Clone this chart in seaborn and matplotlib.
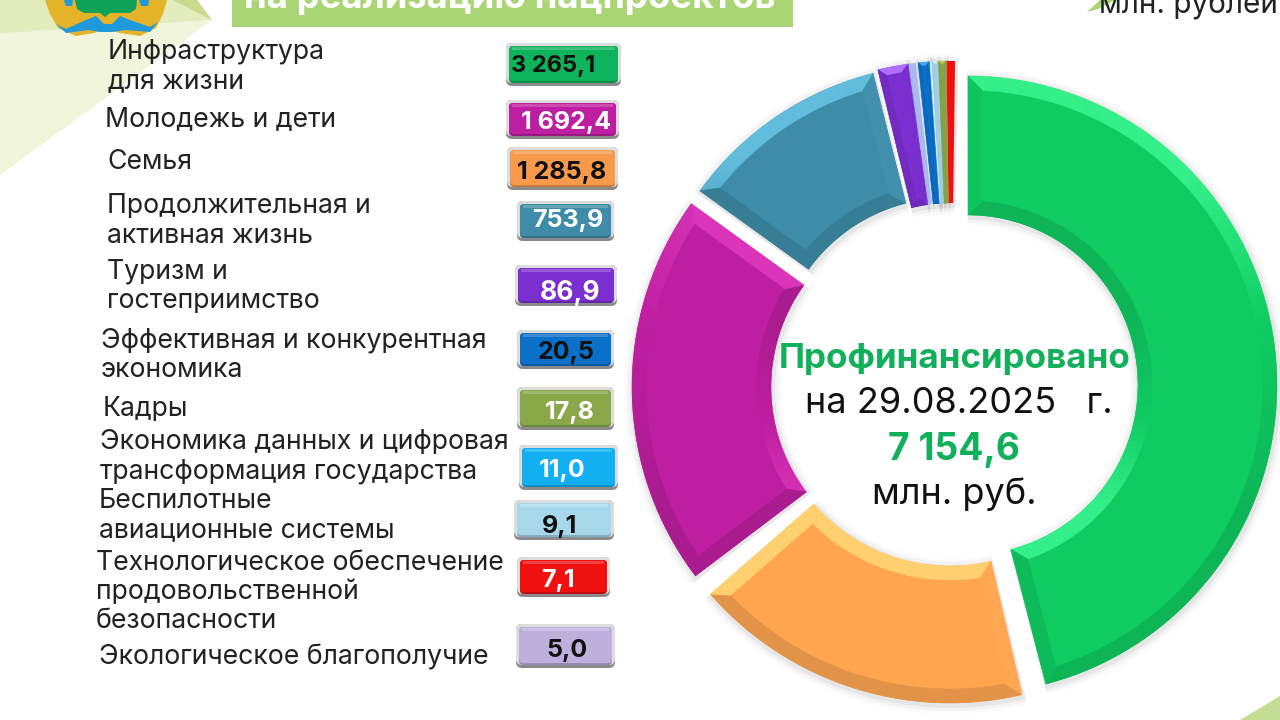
import matplotlib
matplotlib.use("Agg")
import matplotlib.pyplot as plt
from matplotlib.colors import to_rgb
from matplotlib.patches import Polygon, Rectangle, FancyBboxPatch, Wedge, Ellipse
import numpy as np
import seaborn as sns

sns.set_theme(style="white")
plt.rcParams['font.family'] = ['Inter', 'DejaVu Sans']

categories = ["Инфраструктура\nдля жизни", "Молодежь и дети", "Семья",
              "Продолжительная и\nактивная жизнь", "Туризм и\nгостеприимство",
              "Эффективная и конкурентная\nэкономика", "Кадры",
              "Экономика данных и цифровая\nтрансформация государства",
              "Беспилотные\nавиационные системы",
              "Технологическое обеспечение\nпродовольственной\nбезопасности",
              "Экологическое благополучие"]
value_labels = ["3 265,1", "1 692,4", "1 285,8", "753,9", "86,9", "20,5",
                "17,8", "11,0", "9,1", "7,1", "5,0"]
badge_colors = ["#0FB35C", "#BE1EA0", "#F79A4C", "#3E8CA8", "#7B2FD0", "#0A70C8",
                "#8AA84A", "#12B0F0", "#A6D8EA", "#F01010", "#BDB0DC"]
label_dark = [True, False, True, False, False, True, False, False, True, False, True]

# Donut, clockwise: shares of the circle as drawn in the picture
slice_shares = [164.75, 63.5, 77.0, 40.2, 6.0, 1.7, 2.25, 0.5, 1.2, 1.5, 1.6]
slice_colors = ["#0FCB62", "#FFA550", "#BE1EA0", "#3E8CA8", "#7B2FD0", "#A9B8F0",
                "#0A70C8", "#CFEEFA", "#A6D8EA", "#8AA84A", "#F01010"]
rim_light = ["#33F08A", "#FFD070", "#DA35B8", "#62BCDC", "#B070FF", "#C9D4F8",
             "#4AA8F0", "#E8F8FF", "#D8F0F8", "#C4CC50", "#F83030"]
slice_center_x = [968, 950, 945, 948, 951, 951, 951, 951, 951, 951, 951]
slice_center_y = [385, 385, 387, 370, 370, 370, 370, 370, 370, 370, 370]
slice_outer = [309, 318, 313, 306, 309, 309, 309, 309, 309, 309, 309]
slice_inner = [170, 181, 174, 172, 167, 167, 167, 167, 167, 167, 167]
slice_bevel = [14, 14, 14, 14, 7, 0, 3, 0, 3, 3, 0]
trim_clockwise_start = [-0.75, 1.5, 4.0, 0, 0.3, 0, 0.2, 0, 0, 0, 0]
trim_clockwise_end = [0, 0, 0, 0.2, 0, 0.25, 0, 0, 0, 0.1, 0]

fig = plt.figure(figsize=(12.8, 7.2), dpi=100, facecolor="white")
ax = fig.add_axes([0, 0, 1, 1])


def Y(y):
    return 720 - y


def shade(color, light, normal_deg):
    s = np.sin(np.radians(normal_deg)) - 0.2
    c = np.array(to_rgb(color))
    if s > 0:
        return tuple(c + (np.array(to_rgb(light)) - c) * min(s / 0.5, 1))
    return tuple(c * (1 - 0.11 * min(-s * 1.6, 1)))


def add_bevel(cx, cy, ro, ri, t1, t2, b, color, light):
    """Mitred, top-lit rim of one ring slice (angles in degrees, ccw, y up)."""
    def pt(r, a):
        return cx + r * np.cos(np.radians(a)), cy + r * np.sin(np.radians(a))
    d_o = np.degrees(b / (ro - b))
    d_i = np.degrees(b / (ri + b))
    steps = max(int((t2 - t1) / 2), 1)
    edges = np.linspace(t1, t2, steps + 1)
    for a0, a1 in zip(edges[:-1], edges[1:]):
        f0, f1 = (a0 - t1) / (t2 - t1), (a1 - t1) / (t2 - t1)
        oa0, oa1 = t1 + d_o + f0 * (t2 - t1 - 2 * d_o), t1 + d_o + f1 * (t2 - t1 - 2 * d_o)
        ia0, ia1 = t1 + d_i + f0 * (t2 - t1 - 2 * d_i), t1 + d_i + f1 * (t2 - t1 - 2 * d_i)
        mid = (a0 + a1) / 2
        col = shade(color, light, mid)
        ax.add_patch(Polygon([pt(ro, a0), pt(ro, a1), pt(ro - b, oa1), pt(ro - b, oa0)],
                             fc=col, ec=col, lw=0.4, zorder=7))
        col = shade(color, light, mid + 180)
        ax.add_patch(Polygon([pt(ri, a0), pt(ri, a1), pt(ri + b, ia1), pt(ri + b, ia0)],
                             fc=col, ec=col, lw=0.4, zorder=7))
    col = shade(color, light, t1 - 90)
    ax.add_patch(Polygon([pt(ro, t1), pt(ri, t1), pt(ri + b, t1 + d_i), pt(ro - b, t1 + d_o)],
                         fc=col, ec=col, lw=0.4, zorder=7))
    col = shade(color, light, t2 + 90)
    ax.add_patch(Polygon([pt(ro, t2), pt(ri, t2), pt(ri + b, t2 - d_i), pt(ro - b, t2 - d_o)],
                         fc=col, ec=col, lw=0.4, zorder=7))


# Background shapes
for pts, col in [([(0, 30), (212, 20), (0, 175)], "#F0F5DC"),
                 ([(0, 0), (197, 0), (212, 20), (0, 33)], "#E2ECBC"),
                 ([(173, 0), (197, 0), (212, 20)], "#C8DA8C"),
                 ([(1087, 12), (1100, 0), (1115, 0), (1098, 9)], "#A9D574"),
                 ([(1240, 720), (1280, 696), (1280, 720)], "#C4DD94")]:
    ax.add_patch(Polygon([(x, Y(y)) for x, y in pts], closed=True, fc=col, ec="none", zorder=1))

# Title bar
ax.add_patch(Rectangle((232, Y(27)), 561, 27, fc="#A9D574", ec="none", zorder=2))
ax.text(510, Y(8), "на реализацию нацпроектов", ha="center", va="baseline", color="white",
        fontsize=26.3, fontweight="bold", zorder=3)
ax.text(1278, Y(14), "млн. рублей", ha="right", va="baseline", color="#222222", fontsize=21.4, zorder=3)

# Crest
for pts, col, z in [([(45, 0), (50, 14), (58, 28), (76, 36), (94, 33), (106, 29), (120, 33), (140, 36), (156, 28), (163, 14), (167, 0)], "#E4B32A", 3),
                    ([(75, 0), (77, 9), (84, 13), (100, 13), (105, 17), (110, 13), (130, 13), (136, 9), (137, 0)], "#0FA258", 4),
                    ([(56, 24), (66, 29), (86, 20), (96, 16), (104, 24), (112, 24), (120, 16), (130, 20), (150, 27), (158, 22), (150, 32), (126, 30), (112, 32), (100, 32), (88, 30), (66, 33)], "#1E9ADC", 4),
                    ([(64, 0), (73, 0), (72, 6), (66, 6)], "#1E9ADC", 4),
                    ([(139, 0), (149, 0), (148, 6), (141, 6)], "#1E9ADC", 4)]:
    ax.add_patch(Polygon([(x, Y(y)) for x, y in pts], closed=True, fc=col, ec="none", zorder=z))

# Donut
wedges, _ = ax.pie(slice_shares, colors=slice_colors, startangle=89.25, counterclock=False,
                   radius=300, center=(950, Y(385)), wedgeprops=dict(width=130, linewidth=0, zorder=6))
for i, w in enumerate(wedges):
    cx, cy, ro, ri = slice_center_x[i], Y(slice_center_y[i]), slice_outer[i], slice_inner[i]
    t1 = w.theta1 + trim_clockwise_end[i]
    t2 = w.theta2 - trim_clockwise_start[i]
    w.set_center((cx, cy))
    w.set_radius(ro)
    w.set_width(ro - ri)
    w.set_theta1(t1)
    w.set_theta2(t2)
    for k, a in [(9, .015), (6, .03), (3, .05)]:
        ax.add_patch(Wedge((cx + 1, cy - 2), ro + k, t1 - .4, t2 + .4, width=ro - ri + 2 * k,
                           fc="black", alpha=a, lw=0, zorder=4))
    if slice_bevel[i]:
        add_bevel(cx, cy, ro, ri, t1, t2, slice_bevel[i], slice_colors[i], rim_light[i])

# Centre text
ax.text(954.5, Y(368), "Профинансировано", ha="center", va="baseline", color="#12B05A", fontsize=25.2, fontweight="bold", zorder=9)
ax.text(959, Y(413), "на 29.08.2025   г.", ha="center", va="baseline", color="#111111", fontsize=26, zorder=9)
ax.text(954, Y(460), "7 154,6", ha="center", va="baseline", color="#12B05A", fontsize=26.8, fontweight="bold", zorder=9)
ax.text(954, Y(504), "млн. руб.", ha="center", va="baseline", color="#111111", fontsize=26, zorder=9)

# Left list
label_x = [108, 105, 107, 107, 107, 101, 103, 100, 99, 96, 99]
label_y = [66, 119, 162, 221, 286, 355, 409, 457, 516, 592, 657]
badge_x0 = [506, 506, 507, 517, 515, 517, 517, 519, 514, 517, 516]
badge_x1 = [621, 619, 618, 614, 617, 614, 614, 618, 614, 610, 615]
badge_y0 = [43, 100, 147, 201, 265, 330, 387, 445, 500, 557, 624]
badge_y1 = [86, 139, 190, 241, 306, 369, 430, 490, 540, 597, 668]
text_x = [553, 566, 562, 568, 570, 566, 570, 562, 560, 558, 567]
text_y = [66, 123, 172, 221, 293, 352, 413, 471, 527, 580, 650]
text_size = [17, 18, 18, 18, 19, 18, 18, 18, 18, 18, 18]
for i, lab in enumerate(categories):
    ax.text(label_x[i], Y(label_y[i]), lab, ha="left", va="center", color="#222222", fontsize=19.2,
            linespacing=1.17, zorder=5)
    x0, x1, y0, y1 = badge_x0[i], badge_x1[i], badge_y0[i], badge_y1[i]
    base = np.array(to_rgb(badge_colors[i]))
    for dx, dtop, dbot, fc, rs in [(0, 0, 0, "#8A8A8A", 6),
                                   (0, 0, 3, "#DDDDDD", 6),
                                   (3, 3, 3, tuple(base * 0.8), 4),
                                   (3, 3, 5, tuple(base), 4),
                                   ]:
        ax.add_patch(FancyBboxPatch((x0 + dx + rs, Y(y1 - dbot) + rs), x1 - x0 - 2 * dx - 2 * rs,
                                    y1 - y0 - dtop - dbot - 2 * rs,
                                    boxstyle=f"round,pad={rs},rounding_size={rs}", fc=fc, ec="none", zorder=5))
    ax.add_patch(Rectangle((x0 + 6, Y(y0 + 7)), x1 - x0 - 12, 3, fc=tuple(base + (1 - base) * 0.2), ec="none", zorder=5))
    ax.text(text_x[i], Y(text_y[i]), value_labels[i], ha="center", va="center", fontsize=text_size[i],
            fontweight="bold", color="#111111" if label_dark[i] else "white", zorder=6)

ax.set_xlim(0, 1280)
ax.set_ylim(0, 720)
ax.set_aspect("auto")
ax.axis("off")
fig.savefig("out.png", dpi=100)
